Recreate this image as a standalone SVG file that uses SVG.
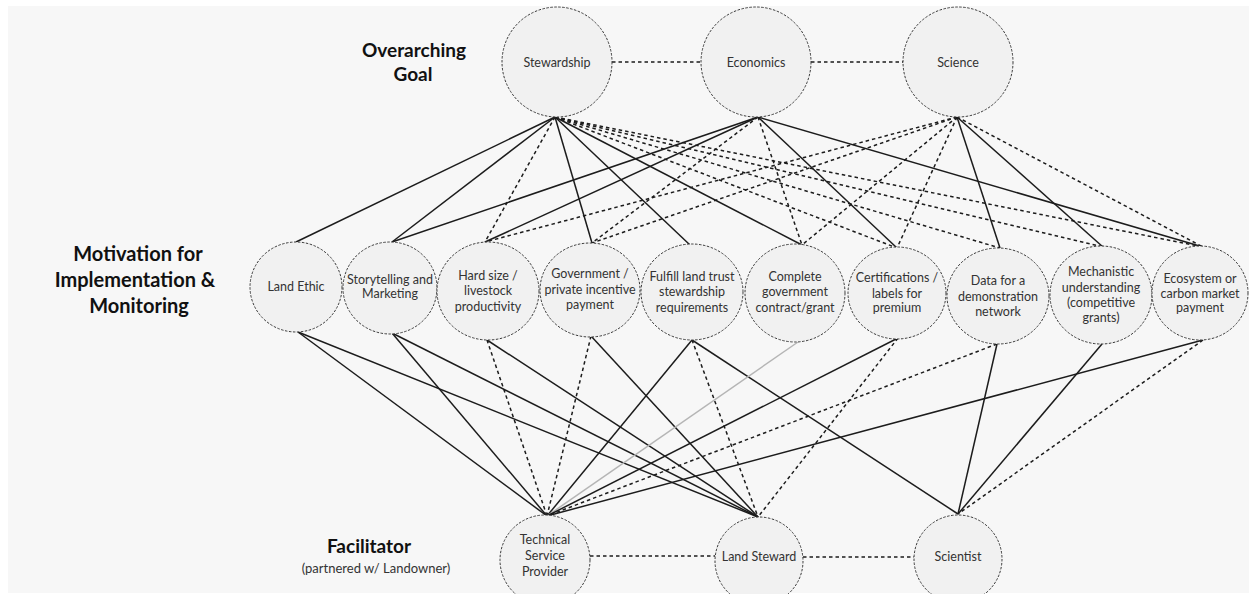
<svg xmlns="http://www.w3.org/2000/svg" width="1249" height="594" viewBox="0 0 1249 594">
<defs>
<style>
.bg{fill:#f7f7f7}
.node{fill:#f1f1f1;stroke:#3a3a3a;stroke-width:1;stroke-dasharray:2.5 1.5}
.lbl{font-family:Lato,"Liberation Sans",sans-serif;font-size:12.5px;fill:#333;text-anchor:middle}
.hd{font-family:Lato,"Liberation Sans",sans-serif;font-size:19px;font-weight:bold;fill:#111;text-anchor:middle}
.hd2{font-family:Lato,"Liberation Sans",sans-serif;font-size:20px;font-weight:bold;fill:#111;text-anchor:middle}
.sub{font-family:Lato,"Liberation Sans",sans-serif;font-size:13px;fill:#333;text-anchor:middle}
.s{stroke:#1c1c1c;stroke-width:1.5;fill:none}
.d{stroke:#1c1c1c;stroke-width:1.5;fill:none;stroke-dasharray:3.5 3}
.g{stroke:#b5b5b5;stroke-width:1.5;fill:none}
</style>
</defs>
<rect x="0" y="0" width="1249" height="594" fill="#ffffff"/>
<rect class="bg" x="8" y="6" width="1241" height="587"/>

<g id="headings">
<text class="hd" x="414" y="57">Overarching</text>
<text class="hd" x="413" y="81">Goal</text>
<text class="hd2" x="138" y="261">Motivation for</text>
<text class="hd2" x="135" y="287">Implementation &amp;</text>
<text class="hd2" x="139" y="313">Monitoring</text>
<text class="hd" x="369" y="553">Facilitator</text>
<text class="sub" x="376" y="573">(partnered w/ Landowner)</text>
</g>

<g id="connectors">
<!-- top row horizontal -->
<line class="d" x1="612" y1="62" x2="702" y2="62"/>
<line class="d" x1="811" y1="62" x2="904" y2="62"/>
<!-- Stewardship -->
<line class="s" x1="555" y1="117" x2="296" y2="242"/>
<line class="s" x1="555" y1="117" x2="392" y2="242"/>
<line class="d" x1="555" y1="117" x2="485" y2="242"/>
<line class="s" x1="555" y1="117" x2="592" y2="243"/>
<line class="s" x1="555" y1="117" x2="690" y2="245"/>
<line class="s" x1="555" y1="117" x2="802" y2="245"/>
<line class="d" x1="555" y1="117" x2="897" y2="248"/>
<line class="d" x1="555" y1="117" x2="1000" y2="248"/>
<line class="d" x1="555" y1="117" x2="1103" y2="247"/>
<line class="d" x1="555" y1="117" x2="1203" y2="247"/>
<!-- Economics -->
<line class="s" x1="758" y1="117" x2="392" y2="242"/>
<line class="s" x1="758" y1="117" x2="485" y2="242"/>
<line class="d" x1="758" y1="117" x2="592" y2="243"/>
<line class="d" x1="758" y1="117" x2="802" y2="245"/>
<line class="s" x1="758" y1="117" x2="897" y2="248"/>
<line class="s" x1="758" y1="117" x2="1203" y2="247"/>
<!-- Science -->
<line class="d" x1="957" y1="117" x2="485" y2="242"/>
<line class="d" x1="957" y1="117" x2="592" y2="243"/>
<line class="d" x1="957" y1="117" x2="802" y2="245"/>
<line class="d" x1="957" y1="117" x2="897" y2="248"/>
<line class="s" x1="957" y1="117" x2="1000" y2="248"/>
<line class="s" x1="957" y1="117" x2="1103" y2="247"/>
<line class="d" x1="957" y1="117" x2="1203" y2="247"/>
<!-- middle to bottom -->
<line class="s" x1="298" y1="332" x2="547" y2="516"/>
<line class="s" x1="298" y1="332" x2="758" y2="517"/>
<line class="s" x1="392" y1="333" x2="547" y2="516"/>
<line class="s" x1="392" y1="333" x2="758" y2="517"/>
<line class="d" x1="487" y1="340" x2="547" y2="516"/>
<line class="s" x1="487" y1="340" x2="758" y2="517"/>
<line class="d" x1="591" y1="336" x2="547" y2="516"/>
<line class="s" x1="591" y1="336" x2="758" y2="517"/>
<line class="s" x1="692" y1="340" x2="547" y2="516"/>
<line class="d" x1="692" y1="340" x2="758" y2="517"/>
<line class="s" x1="692" y1="340" x2="958" y2="514"/>
<line class="g" x1="798" y1="342" x2="547" y2="516"/>
<line class="s" x1="898" y1="338" x2="547" y2="516"/>
<line class="d" x1="898" y1="338" x2="758" y2="517"/>
<line class="d" x1="997" y1="344" x2="547" y2="516"/>
<line class="s" x1="997" y1="344" x2="958" y2="514"/>
<line class="s" x1="1102" y1="344" x2="958" y2="514"/>
<line class="s" x1="1203" y1="340" x2="547" y2="516"/>
<line class="d" x1="1203" y1="340" x2="958" y2="514"/>
<!-- bottom row horizontal -->
<line class="d" x1="590" y1="556" x2="715" y2="556"/>
<line class="d" x1="803" y1="557" x2="914" y2="557"/>
</g>

<g id="stewardship"><circle class="node" cx="557" cy="62" r="55"/><text class="lbl" x="557" y="67">Stewardship</text></g>
<g id="economics"><circle class="node" cx="756" cy="62" r="55"/><text class="lbl" x="756" y="67">Economics</text></g>
<g id="science"><circle class="node" cx="958" cy="62" r="55"/><text class="lbl" x="958" y="67">Science</text></g>

<g id="land-ethic"><ellipse class="node" cx="296" cy="287" rx="46" ry="45"/><text class="lbl" x="296" y="291">Land Ethic</text></g>
<g id="storytelling"><ellipse class="node" cx="390" cy="288" rx="47" ry="46"/><text class="lbl" x="390" y="284">Storytelling and</text><text class="lbl" x="390" y="298">Marketing</text></g>
<g id="herd-size"><ellipse class="node" cx="488" cy="291" rx="51" ry="49"/><text class="lbl" x="488" y="280">Hard size /</text><text class="lbl" x="488" y="295">livestock</text><text class="lbl" x="488" y="311">productivity</text></g>
<g id="government"><ellipse class="node" cx="590" cy="290" rx="50" ry="47"/><text class="lbl" x="590" y="278">Government /</text><text class="lbl" x="590" y="294">private incentive</text><text class="lbl" x="590" y="309">payment</text></g>
<g id="land-trust"><ellipse class="node" cx="692" cy="292" rx="51" ry="48"/><text class="lbl" x="692" y="281">Fulfill land trust</text><text class="lbl" x="692" y="296">stewardship</text><text class="lbl" x="692" y="312">requirements</text></g>
<g id="contract"><ellipse class="node" cx="795" cy="293" rx="50" ry="49"/><text class="lbl" x="795" y="281">Complete</text><text class="lbl" x="795" y="296">government</text><text class="lbl" x="795" y="312">contract/grant</text></g>
<g id="certifications"><ellipse class="node" cx="897" cy="293" rx="49" ry="46"/><text class="lbl" x="897" y="282">Certifications /</text><text class="lbl" x="897" y="298">labels for</text><text class="lbl" x="897" y="312">premium</text></g>
<g id="data"><ellipse class="node" cx="998" cy="296" rx="51" ry="48"/><text class="lbl" x="998" y="285">Data for a</text><text class="lbl" x="998" y="301">demonstration</text><text class="lbl" x="998" y="316">network</text></g>
<g id="mechanistic"><ellipse class="node" cx="1101" cy="295" rx="51" ry="49"/><text class="lbl" x="1101" y="276">Mechanistic</text><text class="lbl" x="1101" y="292">understanding</text><text class="lbl" x="1101" y="307">(competitive</text><text class="lbl" x="1101" y="322">grants)</text></g>
<g id="ecosystem"><ellipse class="node" cx="1200" cy="293" rx="48" ry="47"/><text class="lbl" x="1200" y="283">Ecosystem or</text><text class="lbl" x="1200" y="298">carbon market</text><text class="lbl" x="1200" y="312">payment</text></g>

<g id="tsp"><circle class="node" cx="545" cy="560" r="45"/><text class="lbl" x="545" y="544">Technical</text><text class="lbl" x="545" y="560">Service</text><text class="lbl" x="545" y="576">Provider</text></g>
<g id="land-steward"><circle class="node" cx="759" cy="561" r="44"/><text class="lbl" x="759" y="561">Land Steward</text></g>
<g id="scientist"><circle class="node" cx="958" cy="559" r="44"/><text class="lbl" x="958" y="561">Scientist</text></g>
</svg>
